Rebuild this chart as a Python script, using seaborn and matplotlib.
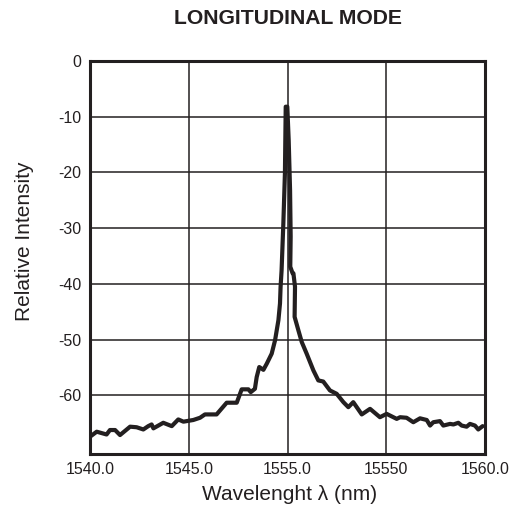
import matplotlib
matplotlib.use("Agg")
import matplotlib.pyplot as plt
import seaborn as sns

sns.set_theme(style="white")
plt.rcParams["font.family"] = ["Liberation Sans", "DejaVu Sans"]

# ── Data ───────────────────────────────────────────────────────
wavelength = [
    1540.00, 1540.34, 1540.84, 1541.01, 1541.27, 1541.52, 1542.03, 1542.36,
    1542.70, 1542.95, 1543.12, 1543.21, 1543.71, 1544.14, 1544.47, 1544.73,
    1545.23, 1545.57, 1545.82, 1546.41, 1546.58, 1546.92, 1547.43, 1547.68,
    1548.02, 1548.14, 1548.35, 1548.44, 1548.57, 1548.78, 1548.95, 1549.20,
    1549.37, 1549.54, 1549.62, 1549.65, 1549.70, 1549.79, 1549.87, 1549.91,
    1549.99, 1550.06, 1550.13, 1550.16, 1550.14, 1550.26, 1550.30, 1550.38,
    1550.36, 1550.55, 1550.72, 1550.97, 1551.31, 1551.56, 1551.81, 1552.15,
    1552.49, 1552.83, 1553.08, 1553.33, 1553.76, 1554.18, 1554.68, 1555.02,
    1555.53, 1555.70, 1556.03, 1556.37, 1556.71, 1557.05, 1557.22, 1557.38,
    1557.72, 1557.89, 1558.23, 1558.40, 1558.65, 1558.82, 1559.07, 1559.24,
    1559.49, 1559.66, 1559.88,
]
intensity = [
    -67.4, -66.5, -67.0, -66.2, -66.2, -67.1, -65.6, -65.7,
    -66.1, -65.5, -65.2, -65.9, -64.9, -65.5, -64.3, -64.7,
    -64.4, -64.0, -63.4, -63.4, -62.7, -61.3, -61.3, -58.9,
    -58.9, -59.4, -58.8, -56.7, -54.9, -55.4, -54.3, -52.5,
    -50.1, -46.5, -43.5, -40.5, -37.6, -29.1, -20.1, -8.2,
    -8.2, -14.2, -23.2, -31.5, -36.9, -38.1, -38.1, -40.5,
    -45.9, -48.3, -50.4, -52.5, -55.5, -57.3, -57.5, -59.1,
    -59.7, -61.2, -62.1, -61.2, -63.4, -62.4, -63.9, -63.3,
    -64.2, -63.9, -64.0, -64.8, -64.1, -64.4, -65.4, -64.8,
    -64.6, -65.4, -65.1, -65.2, -64.9, -65.4, -65.6, -65.1,
    -65.4, -66.1, -65.5,
]
x_ticks = [1540, 1545, 1550, 1555, 1560]
x_tick_labels = ["1540.0", "1545.0", "1555.0", "15550", "1560.0"]
y_ticks = [0, -10, -20, -30, -40, -50, -60]
y_tick_labels = ["0", "-10", "-20", "-30", "-40", "-50", "-60"]

INK = "#231f20"

fig = plt.figure(figsize=(5.24, 5.17), dpi=100)
ax = fig.add_axes([90 / 524, 1 - 454 / 517, 395 / 524, 393 / 517])

sns.lineplot(x=wavelength, y=intensity, sort=False, estimator=None,
             color=INK, lw=3.0, ax=ax, zorder=3)

ax.set_xlim(1540, 1560)
ax.set_ylim(-70.5, 0)
ax.set_xticks(x_ticks)
ax.set_xticklabels(x_tick_labels)
ax.set_yticks(y_ticks)
ax.set_yticklabels(y_tick_labels)
ax.tick_params(length=0, labelsize=11.5, colors=INK, pad=6)
ax.grid(True, color=INK, lw=1.1)
for s in ax.spines.values():
    s.set_color(INK)
    s.set_linewidth(2.2)

ax.set_xlabel("Wavelenght λ (nm)", fontsize=15, color=INK)
ax.set_ylabel("Relative Intensity", fontsize=15, color=INK)
ax.xaxis.set_label_coords(0.504, -0.08)
ax.yaxis.set_label_coords(-0.142, 0.541)
fig.text(288 / 524, 1 - 19 / 517, "LONGITUDINAL MODE", ha="center", va="center",
         fontsize=15.2, fontweight="bold", color=INK)

fig.savefig("out.png", dpi=100)
